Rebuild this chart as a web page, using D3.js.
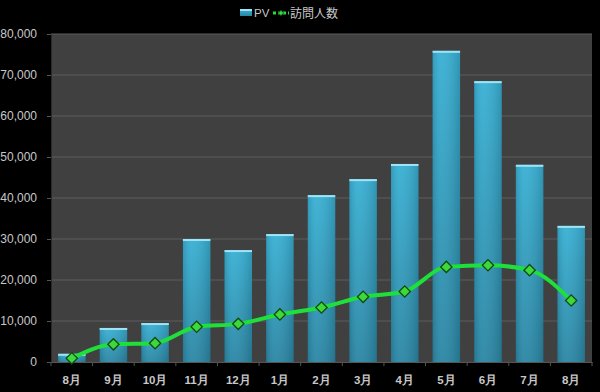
<!DOCTYPE html>
<html><head><meta charset="utf-8">
<script src="https://cdn.jsdelivr.net/npm/d3@7"></script>
<style>body{margin:0;background:#000;}svg{display:block;}</style>
</head><body>
<script>
const categories = ["8月","9月","10月","11月","12月","1月","2月","3月","4月","5月","6月","7月","8月"];
const pvValues = [2000, 8300, 9500, 30000, 27300, 31200, 40700, 44600, 48300, 75900, 68500, 48100, 33200];
const visitorValues = [900, 4300, 4600, 8600, 9300, 11600, 13300, 15900, 17200, 23200, 23600, 22400, 15000];
const yTicks = [0, 10000, 20000, 30000, 40000, 50000, 60000, 70000, 80000];
const legendLabels = ["PV", "訪問人数"];

const W = 600, H = 392;
const m = {left: 51, right: 8, top: 34, bottom: 30};
const svg = d3.select("body").append("svg").attr("width", W).attr("height", H);
svg.append("rect").attr("width", W).attr("height", H).attr("fill", "#000");

const x = d3.scaleBand().domain(d3.range(categories.length)).range([m.left, W - m.right]).paddingInner(0.34).paddingOuter(0.17);
const y = d3.scaleLinear().domain([0, 80000]).range([H - m.bottom, m.top]);

const defs = svg.append("defs");
const g1 = defs.append("linearGradient").attr("id", "barV").attr("x1", 0).attr("y1", 0).attr("x2", 0).attr("y2", 1);
g1.append("stop").attr("offset", 0).attr("stop-color", "#38b0d4");
g1.append("stop").attr("offset", 1).attr("stop-color", "#2a86a4");
const g2 = defs.append("linearGradient").attr("id", "barH").attr("x1", 0).attr("y1", 0).attr("x2", 1).attr("y2", 0);
g2.append("stop").attr("offset", 0).attr("stop-color", "#000").attr("stop-opacity", 0.12);
g2.append("stop").attr("offset", 0.3).attr("stop-color", "#fff").attr("stop-opacity", 0.05);
g2.append("stop").attr("offset", 1).attr("stop-color", "#000").attr("stop-opacity", 0.15);

// plot background
svg.append("rect").attr("x", m.left).attr("y", m.top).attr("width", W - m.right - m.left).attr("height", H - m.bottom - m.top).attr("fill", "#404040");

// gridlines
svg.append("g").selectAll("line").data(yTicks.filter(d => d > 0)).join("line")
  .attr("x1", m.left).attr("x2", W - m.right).attr("y1", d => y(d)).attr("y2", d => y(d))
  .attr("stroke", "#5c5c5c").attr("stroke-width", 1);

// y axis
const yAxis = svg.append("g").attr("transform", `translate(${m.left},0)`)
  .call(d3.axisLeft(y).tickValues(yTicks).tickFormat(d3.format(",")).tickSize(4).tickPadding(10));
yAxis.select(".domain").attr("stroke", "#2a2a2a");
yAxis.selectAll(".tick line").attr("stroke", "#555");
yAxis.selectAll("text").attr("fill", "#c8c8c8").style("font-family", "Liberation Sans, Arial, sans-serif").style("font-size", "12px");

// x axis
const xAxis = svg.append("g").attr("transform", `translate(0,${H - m.bottom})`)
  .call(d3.axisBottom(x).tickFormat(i => categories[i]).tickSize(0).tickPadding(14));
xAxis.select(".domain").attr("stroke", "#555");
xAxis.selectAll("text").attr("fill", "#c8c8c8").style("font-family", "Liberation Sans, Arial, sans-serif").style("font-size", "11.5px").style("font-weight", "bold");
// boundary ticks
const step = x.step();
svg.append("g").selectAll("line").data(d3.range(categories.length + 1)).join("line")
  .attr("x1", i => m.left + i * step).attr("x2", i => m.left + i * step)
  .attr("y1", H - m.bottom).attr("y2", H - m.bottom + 4).attr("stroke", "#555");

// bars
const bars = svg.append("g");
bars.selectAll("rect.b").data(pvValues).join("rect").attr("class", "b")
  .attr("x", (d, i) => x(i)).attr("width", x.bandwidth())
  .attr("y", d => y(d)).attr("height", d => y(0) - y(d)).attr("fill", "url(#barV)");
bars.selectAll("rect.s").data(pvValues).join("rect").attr("class", "s")
  .attr("x", (d, i) => x(i)).attr("width", x.bandwidth())
  .attr("y", d => y(d)).attr("height", d => y(0) - y(d)).attr("fill", "url(#barH)");
bars.selectAll("rect.c").data(pvValues).join("rect").attr("class", "c")
  .attr("x", (d, i) => x(i)).attr("width", x.bandwidth())
  .attr("y", d => y(d)).attr("height", 2).attr("fill", "#9fe4f6");

// line
const cx = i => x(i) + x.bandwidth() / 2;
svg.append("path").datum(visitorValues)
  .attr("d", d3.line().x((d, i) => cx(i)).y(d => y(d)).curve(d3.curveMonotoneX))
  .attr("fill", "none").attr("stroke", "#1fe03a").attr("stroke-width", 4).attr("stroke-linejoin", "round");
svg.append("g").selectAll("path").data(visitorValues).join("path")
  .attr("transform", (d, i) => `translate(${cx(i)},${y(d)}) rotate(45)`)
  .attr("d", d3.symbol(d3.symbolSquare, 64))
  .attr("fill", "#3ed83a").attr("stroke", "#0d4a10").attr("stroke-width", 1.3);

// legend
const lg = svg.append("g").style("font-family", "Liberation Sans, Arial, sans-serif").style("font-size", "11.5px");
lg.append("rect").attr("x", 240).attr("y", 9).attr("width", 12).attr("height", 7).attr("fill", "url(#barV)");
lg.append("rect").attr("x", 240).attr("y", 9).attr("width", 12).attr("height", 2).attr("fill", "#9fe4f6");
lg.append("text").attr("x", 254).attr("y", 17).attr("fill", "#c8c8c8").text(legendLabels[0]);
lg.append("line").attr("x1", 273).attr("x2", 289).attr("y1", 13).attr("y2", 13).attr("stroke", "#1fe03a").attr("stroke-width", 3).attr("stroke-dasharray", "3,2");
lg.append("path").attr("transform", "translate(281,13) rotate(45)").attr("d", d3.symbol(d3.symbolSquare, 14)).attr("fill", "#3ed83a").attr("stroke", "#0d4a10").attr("stroke-width", 0.8);
lg.append("text").attr("x", 290).attr("y", 18).attr("fill", "#c8c8c8").style("font-family", "Noto Sans CJK JP, sans-serif").style("font-size", "12px").text(legendLabels[1]);
</script>
</body></html>
